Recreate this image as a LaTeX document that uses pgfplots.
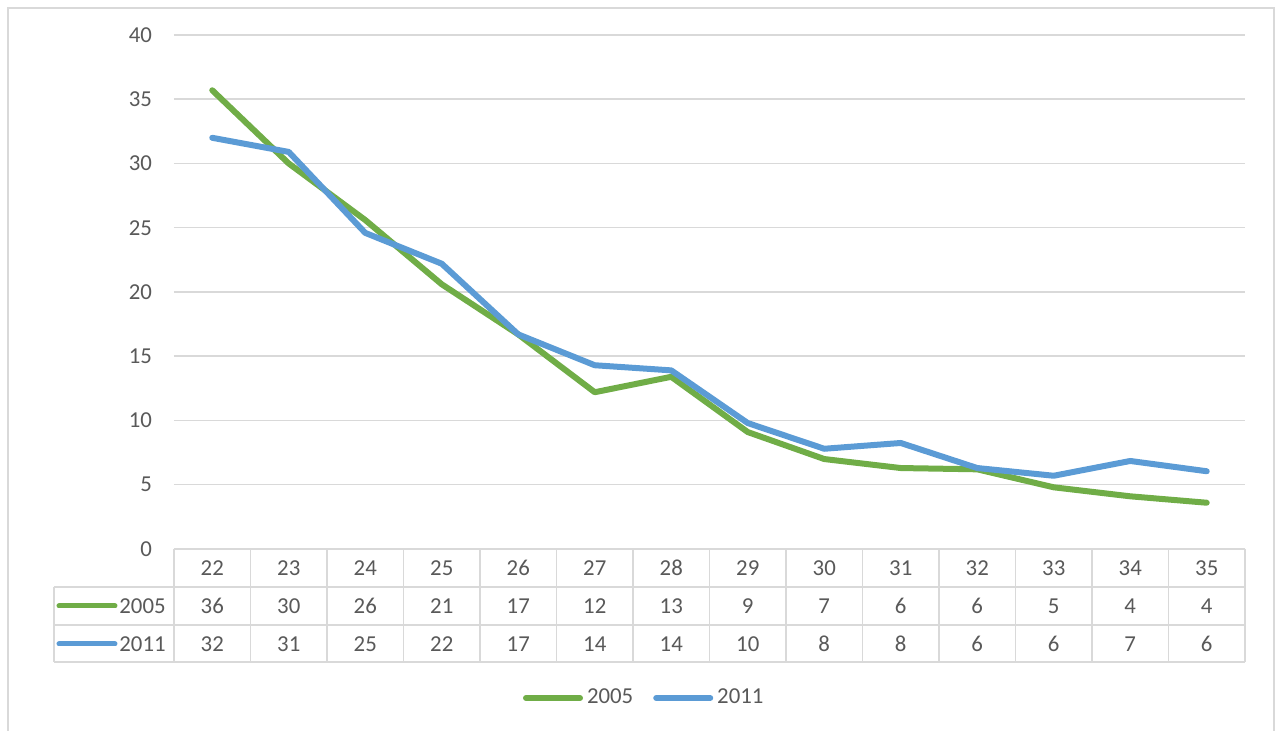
\documentclass[border=0pt]{standalone}
\usepackage{pgfplots}
\usepackage{pgfplotstable}
\pgfplotsset{compat=1.18}
\usepackage{fontspec}
\setmainfont{Carlito}
\definecolor{cgreen}{HTML}{70AD47}
\definecolor{cblue}{HTML}{5B9BD5}
\definecolor{ctext}{HTML}{595959}
\definecolor{cgrid}{HTML}{D9D9D9}

\pgfplotstableread{
x y2005 y2011
0 35.7 32.0
1 30.0 30.9
2 25.6 24.6
3 20.6 22.2
4 16.7 16.7
5 12.2 14.3
6 13.4 13.9
7 9.1 9.8
8 7.0 7.8
9 6.3 8.25
10 6.2 6.3
11 4.8 5.7
12 4.1 6.85
13 3.6 6.05
}\datatable

\begin{document}
\begin{tikzpicture}[font=\fontsize{11.4}{13}\selectfont, text=ctext]
\useasboundingbox (-87pt,-91pt) rectangle (554pt,274.5pt);
\draw[cgrid, line width=0.75pt] (-83pt,-100pt) -- (-83pt,270.5pt) -- (550pt,270.5pt) -- (550pt,-100pt);
\begin{axis}[
  at={(0pt,0pt)}, anchor=south west,
  scale only axis, width=535.5pt, height=257pt,
  xmin=-0.5, xmax=13.5, ymin=0, ymax=40,
  ytick={0,5,10,15,20,25,30,35,40},
  xtick=data, xticklabels={22,23,24,25,26,27,28,29,30,31,32,33,34,35},
  ymajorgrids, grid style={cgrid, line width=0.75pt},
  axis line style={draw=none},
  major tick length=0pt,
  clip=false,
  /pgf/number format/assume math mode=true,
  xticklabel style={anchor=center, yshift=-9.5pt, text=ctext, font=\fontsize{11.4}{13}\selectfont},
  yticklabel style={anchor=east, xshift=-7.5pt, text=ctext, font=\fontsize{11.4}{13}\selectfont},
  legend style={at={(axis description cs:0.44,-0.29)}, anchor=center, draw=none, fill=none,
    legend columns=2, font=\fontsize{11.4}{13}\selectfont, text=ctext,
    /tikz/every even column/.append style={column sep=8pt}},
  legend image code/.code={\draw[#1, line width=3pt, line cap=round] (0pt,0pt) -- (27pt,0pt);},
]
\addplot[cgreen, line width=3pt, line join=round, line cap=round] table[x=x, y=y2005]{\datatable};
\addlegendentry{2005}
\addplot[cblue, line width=3pt, line join=round, line cap=round] table[x=x, y=y2011]{\datatable};
\addlegendentry{2011}
\end{axis}
% data table grid
\begin{scope}[cgrid, line width=0.75pt]
\draw (0pt,0pt) -- (535.5pt,0pt);
\draw (-60pt,-19pt) -- (535.5pt,-19pt);
\draw (-60pt,-38pt) -- (535.5pt,-38pt);
\draw (-60pt,-56.5pt) -- (535.5pt,-56.5pt);
\draw (-60pt,-19pt) -- (-60pt,-56.5pt);
\foreach \k in {0,...,14} {\draw ({\k*38.25pt},0pt) -- ({\k*38.25pt},-56.5pt);}
\end{scope}
\foreach \i/\a/\b in {0/36/32,1/30/31,2/26/25,3/21/22,4/17/17,5/12/14,6/13/14,7/9/10,8/7/8,9/6/8,10/6/6,11/5/6,12/4/7,13/4/6} {
  \node[text=ctext] at ({19.125pt+\i*38.25pt},-28.5pt) {\a};
  \node[text=ctext] at ({19.125pt+\i*38.25pt},-47.5pt) {\b};
}
\draw[cgreen, line width=2.5pt, line cap=round] (-57.5pt,-28.5pt) -- (-29.5pt,-28.5pt);
\node[anchor=west, inner sep=0pt, text=ctext] at (-27.5pt,-28.5pt) {2005};
\draw[cblue, line width=2.5pt, line cap=round] (-57.5pt,-47.5pt) -- (-29.5pt,-47.5pt);
\node[anchor=west, inner sep=0pt, text=ctext] at (-27.5pt,-47.5pt) {2011};
\end{tikzpicture}
\end{document}
